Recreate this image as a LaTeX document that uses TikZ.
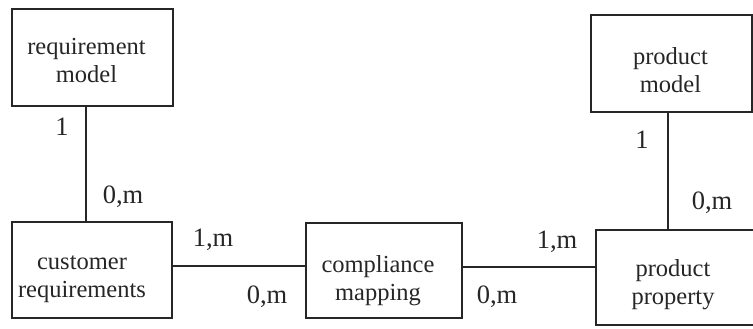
\documentclass[tikz,border=0pt]{standalone}
\usepackage{fontspec}
\setmainfont{Liberation Serif}
\begin{document}
\begin{tikzpicture}[x=1pt,y=-1pt,
  entity/.style={draw=black!85, line width=1.6pt, inner sep=0pt},
  etext/.style={align=center, inner sep=0pt,
    font=\fontsize{24.5}{28}\selectfont, text=black!85},
  card/.style={font=\fontsize{26.5}{30}\selectfont, text=black!85, inner sep=0pt},
  link/.style={draw=black!85, line width=1.6pt}]
\useasboundingbox (0,0) rectangle (753,329);
% entity boxes
\node[entity, minimum width=161pt, minimum height=97pt] (reqmodel) at (92.5,57.5) {};
\node[entity, minimum width=160pt, minimum height=96pt] (custreq) at (92,270) {};
\node[entity, minimum width=156pt, minimum height=95pt] (compl) at (384,270.5) {};
\node[entity, minimum width=161pt, minimum height=97pt] (prodmodel) at (671.5,63.5) {};
\node[entity, minimum width=162pt, minimum height=95pt] (prodprop) at (677,277.5) {};
% entity names
\node[etext] (t1) at ([shift={(-6,3)}]reqmodel.center) {requirement\\model};
\node[etext] (t2) at ([shift={(-10,9)}]custreq.center) {customer\\requirements};
\node[etext] (t3) at ([shift={(-6,10)}]compl.center) {compliance\\mapping};
\node[etext] (t4) at ([shift={(-1,7)}]prodmodel.center) {product\\model};
\node[etext] (t5) at ([shift={(-4,7)}]prodprop.center) {product\\property};
% relationships
\draw[link] ([xshift=-6.5pt]reqmodel.south) -- ([xshift=-6.5pt]reqmodel.south |- custreq.north);
\draw[link] ([yshift=4pt]custreq.east) -- ([yshift=4pt]custreq.east -| compl.west);
\draw[link] ([yshift=3.5pt]compl.east) -- ([yshift=3.5pt]compl.east -| prodprop.west);
\draw[link] ([xshift=-3.5pt]prodmodel.south) -- ([xshift=-3.5pt]prodmodel.south |- prodprop.north);
% cardinalities
\node[card] (c1) at (62,127) {1};
\node[card] (c2) at (123,197) {0,m};
\node[card] (c3) at (213,240) {1,m};
\node[card] (c4) at (267,297) {0,m};
\node[card] (c5) at (497,297) {0,m};
\node[card] (c6) at (557,242) {1,m};
\node[card] (c7) at (642,140) {1};
\node[card] (c8) at (712,203) {0,m};
\end{tikzpicture}
\end{document}
